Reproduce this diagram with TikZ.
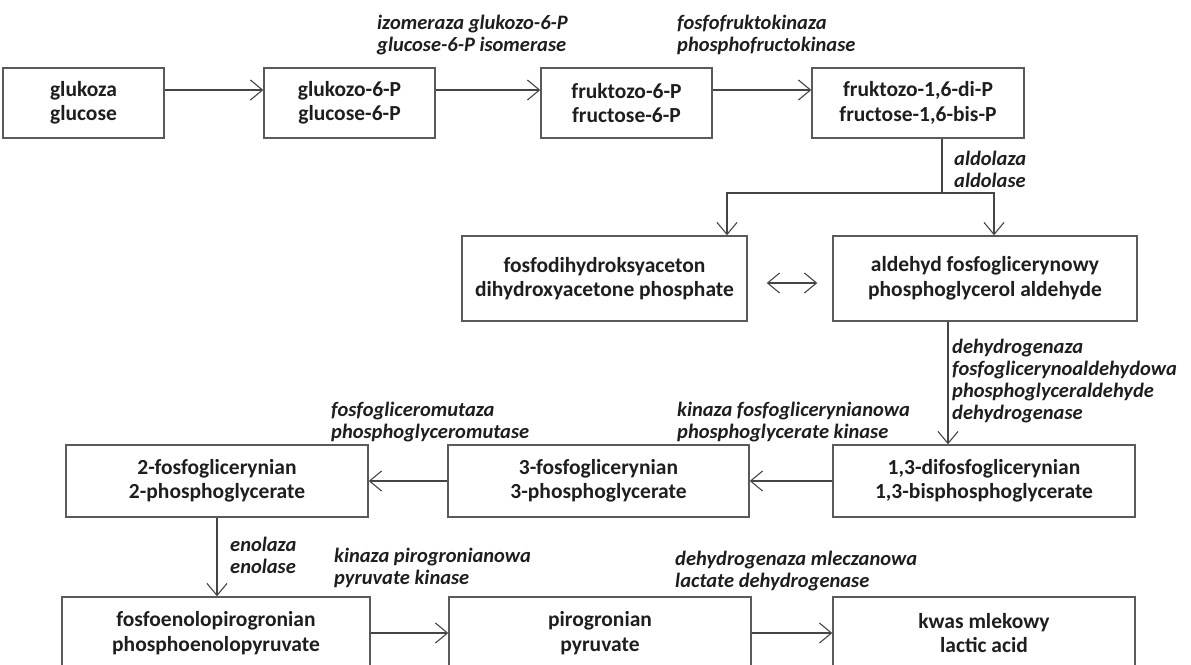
\documentclass[tikz,border=0pt]{standalone}
\usepackage{fontspec}
\setmainfont{Carlito}
\usetikzlibrary{arrows.meta,calc}
\definecolor{boxgray}{HTML}{5A5A5A}
\definecolor{linegray}{HTML}{454545}
\definecolor{txt}{HTML}{1E1E1E}
\newcommand\bxfont{\bfseries\fontsize{21.5}{24.5}\selectfont}
\newcommand\lbfont{\bfseries\itshape\fontsize{20.5}{22}\selectfont}
\begin{document}
\begin{tikzpicture}[x=1pt,y=-1pt,
  box/.style={draw=boxgray, line width=1.4pt, align=center, font=\bxfont, text=txt, inner sep=0pt},
  lbl/.style={align=left, font=\lbfont, text=txt, inner sep=0pt, anchor=west},
  conn/.style={draw=linegray, line width=1.3pt},
  arr/.style={conn, -{Straight Barb[length=12pt,width=20pt,line width=1.1pt]}},
  dblarr/.style={conn, {Straight Barb[length=12pt,width=20pt,line width=1.1pt]}-{Straight Barb[length=12pt,width=20pt,line width=1.1pt]}}]
\useasboundingbox (0,0) rectangle (1191,664);
% row 1
\node[box, minimum width=161pt, minimum height=70pt] (glu) at (83.5,103) {glukoza\\glucose};
\node[box, minimum width=171pt, minimum height=70pt] (g6p) at (349.5,103) {glukozo-6-P\\glucose-6-P};
\node[box, minimum width=171pt, minimum height=70pt] (f6p) at (626.5,103) {fruktozo-6-P\\fructose-6-P};
\node[box, minimum width=212pt, minimum height=70pt] (f16) at (918,103) {fruktozo-1,6-di-P\\fructose-1,6-bis-P};
% row 2
\node[box, minimum width=285pt, minimum height=85pt] (dhap) at (604.5,278.5) {fosfodihydroksyaceton\\dihydroxyacetone phosphate};
\node[box, minimum width=304pt, minimum height=85pt] (gap) at (985,278.5) {aldehyd fosfoglicerynowy\\phosphoglycerol aldehyde};
% row 3
\node[box, minimum width=302pt, minimum height=72pt] (bpg) at (984,481) {1,3-difosfoglicerynian\\1,3-bisphosphoglycerate};
\node[box, minimum width=301pt, minimum height=72pt] (pg3) at (598.5,481) {3-fosfoglicerynian\\3-phosphoglycerate};
\node[box, minimum width=302pt, minimum height=72pt] (pg2) at (217,481) {2-fosfoglicerynian\\2-phosphoglycerate};
% row 4
\node[box, minimum width=308pt, minimum height=72pt] (pep) at (216,633) {fosfoenolopirogronian\\phosphoenolopyruvate};
\node[box, minimum width=302pt, minimum height=72pt] (pyr) at (600,633) {pirogronian\\pyruvate};
\node[box, minimum width=302pt, minimum height=72pt] (lac) at (984,633) {kwas mlekowy\\lactic acid};
% labels
\node[lbl] (l1) at (377,35) {izomeraza glukozo-6-P\\glucose-6-P isomerase};
\node[lbl] (l2) at (677,35) {fosfofruktokinaza\\phosphofructokinase};
\node[lbl] (l3) at (954,169.5) {aldolaza\\aldolase};
\node[lbl] (l4) at (952,381.5) {dehydrogenaza\\fosfoglicerynoaldehydowa\\phosphoglyceraldehyde\\dehydrogenase};
\node[lbl] (l5) at (677,422) {kinaza fosfoglicerynianowa\\phosphoglycerate kinase};
\node[lbl] (l6) at (331,422) {fosfogliceromutaza\\phosphoglyceromutase};
\node[lbl] (l7) at (230,555) {enolaza\\enolase};
\node[lbl] (l8) at (334,568) {kinaza pirogronianowa\\pyruvate kinase};
\node[lbl] (l9) at (675,571) {dehydrogenaza mleczanowa\\lactate dehydrogenase};
% connectors
\draw[arr] ([yshift=13pt]glu.east) -- ([yshift=13pt]g6p.west);
\draw[arr] ([yshift=13pt]g6p.east) -- ([yshift=13pt]f6p.west);
\draw[arr] ([yshift=13pt]f6p.east) -- ([yshift=13pt]f16.west);
\coordinate (split) at (942,193);
\draw[conn] (f16.south -| split) -- (split);
\draw[arr] (split) -| ([xshift=122.5pt]dhap.north);
\draw[arr] (split) -| ([xshift=9pt]gap.north);
\draw[dblarr] ([xshift=19pt,yshift=-4.5pt]dhap.east) -- ([xshift=-15pt,yshift=-4.5pt]gap.west);
\draw[arr] ([xshift=-37pt]gap.south) -- ([xshift=-37pt]gap.south |- bpg.north);
\draw[arr] (bpg.west) -- (pg3.east);
\draw[arr] (pg3.west) -- (pg2.east);
\draw[arr] (pg2.south) -- (pg2.south |- pep.north);
\draw[arr] (pep.east) -- (pyr.west);
\draw[arr] (pyr.east) -- (lac.west);
\end{tikzpicture}
\end{document}
